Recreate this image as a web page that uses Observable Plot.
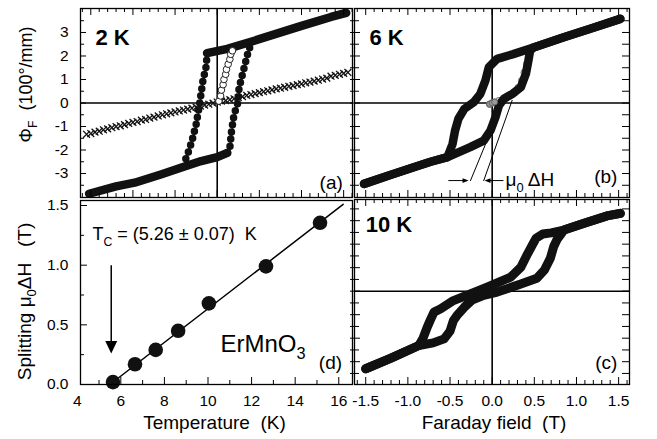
<!DOCTYPE html>
<html><head><meta charset="utf-8">
<script src="https://cdn.jsdelivr.net/npm/d3@7"></script>
<script src="https://cdn.jsdelivr.net/npm/@observablehq/plot@0.6"></script>
<style>
body{margin:0;background:#fff;}
#wrap{position:relative;width:657px;height:439px;overflow:hidden;background:#fff;}
</style></head><body><div id="wrap"></div>
<script>
// ---------------- data ----------------
const fieldTicks = [-1.5, -1, -0.5, 0, 0.5, 1, 1.5];
const fieldTickLabels = ["-1.5", "-1.0", "-0.5", "0.0", "0.5", "1.0", "1.5"];
const phiTicks = [-3, -2, -1, 0, 1, 2, 3];
const phiTickLabels = ["-3", "-2", "-1", "0", "1", "2", "3"];
const tempTicks = [4, 6, 8, 10, 12, 14, 16];
const tempTickLabels = ["4", "6", "8", "10", "12", "14", "16"];
const splitTicks = [0, 0.5, 1, 1.5];
const splitTickLabels = ["0.0", "0.5", "1.0", "1.5"];

// (a) 2 K loop, [field T, Phi]
const a2K_lower = [[-1.52,-3.86],[-1.2,-3.55],[-0.98,-3.39],[-0.66,-3.03],[-0.37,-2.68],[-0.19,-2.47],[0.0,-2.3],[0.12,-2.12]];
const a2K_rise  = [[0.12,-2.12],[0.15,-1.9],[0.17,-1.19],[0.2,-0.48],[0.24,-0.06],[0.26,0.65],[0.3,1.22],[0.34,1.79],[0.37,2.21],[0.4,2.5]];
const a2K_upper = [[-0.12,2.12],[0.12,2.3],[0.44,2.65],[0.99,3.27],[1.35,3.66],[1.53,3.83]];
const a2K_fall  = [[-0.12,2.12],[-0.13,1.57],[-0.17,0.94],[-0.21,-0.06],[-0.25,-0.91],[-0.29,-1.48],[-0.33,-1.97],[-0.37,-2.33],[-0.39,-2.65]];
const a2K_virgin = [[0.02,0.08],[0.04,0.3],[0.05,0.55],[0.07,0.78],[0.08,1.0],[0.1,1.22],[0.11,1.43],[0.13,1.65],[0.15,1.86],[0.16,2.07],[0.18,2.22]];
const a2K_crossField = [-1.55,-1.5,-1.45,-1.4,-1.35,-1.3,-1.25,-1.2,-1.15,-1.1,-1.05,-1.0,-0.95,-0.9,-0.85,-0.8,-0.75,-0.7,-0.65,-0.6,-0.55,-0.5,-0.45,-0.4,-0.35,-0.3,-0.25,-0.2,-0.15,-0.1,-0.05,0,0.05,0.1,0.15,0.2,0.25,0.3,0.35,0.4,0.45,0.5,0.55,0.6,0.65,0.7,0.75,0.8,0.85,0.9,0.95,1.0,1.05,1.1,1.15,1.2,1.25,1.3,1.35,1.4,1.45,1.5,1.55];
const a2K_crossPhi = [-1.33,-1.3,-1.24,-1.2,-1.14,-1.1,-1.05,-1.0,-0.97,-0.92,-0.87,-0.82,-0.79,-0.73,-0.7,-0.64,-0.6,-0.55,-0.5,-0.46,-0.42,-0.38,-0.34,-0.3,-0.26,-0.22,-0.18,-0.13,-0.09,-0.05,-0.01,0.04,0.08,0.1,0.14,0.18,0.23,0.27,0.32,0.36,0.4,0.44,0.48,0.52,0.56,0.6,0.63,0.67,0.71,0.74,0.78,0.81,0.86,0.89,0.93,0.97,1.02,1.06,1.14,1.18,1.22,1.26,1.3];

// (b) 6 K loop
const b6K_desc = [[1.52,3.58],[1.2,3.2],[0.85,2.8],[0.49,2.36],[0.25,2.08],[0.06,1.88],[-0.04,1.52],[-0.08,0.96],[-0.14,0.39],[-0.22,0.03],[-0.33,-0.25],[-0.4,-0.67],[-0.44,-1.17],[-0.47,-1.74],[-0.53,-2.3],[-0.73,-2.5],[-0.93,-2.73],[-1.2,-3.05],[-1.52,-3.44]];
const b6K_asc  = [[-1.52,-3.44],[-1.2,-3.05],[-0.93,-2.73],[-0.73,-2.5],[-0.53,-2.3],[-0.26,-1.88],[-0.1,-1.6],[-0.02,-1.17],[0.04,-0.6],[0.08,-0.11],[0.14,0.18],[0.24,0.39],[0.34,0.67],[0.4,1.24],[0.43,1.81],[0.45,2.23],[0.49,2.36],[0.85,2.8],[1.2,3.2],[1.52,3.58]];
const b6K_virgin = [[-0.03,-0.05],[0.0,0.0],[0.03,0.04],[0.08,0.1],[0.14,0.18],[0.21,0.3],[0.27,0.45],[0.31,0.66],[0.35,0.95],[0.38,1.3],[0.41,1.65]];
const b6K_tangent1 = [[-0.257,-3.3],[-0.05,-1.5]];
const b6K_tangent2 = [[-0.10,-3.3],[0.237,0.11]];

// (c) 10 K loop
const c10K_desc = [[1.52,3.31],[1.36,3.2],[1.1,2.9],[0.85,2.6],[0.7,2.48],[0.6,2.43],[0.52,2.25],[0.49,2.05],[0.42,1.59],[0.34,1.02],[0.22,0.6],[-0.06,0.17],[-0.26,-0.12],[-0.46,-0.4],[-0.61,-0.75],[-0.69,-0.89],[-0.73,-1.2],[-0.77,-1.53],[-0.82,-2.0],[-0.87,-2.31],[-1.2,-2.85],[-1.5,-3.3]];
const c10K_asc  = [[-1.5,-3.3],[-1.2,-2.85],[-0.87,-2.31],[-0.7,-2.2],[-0.57,-2.03],[-0.5,-1.7],[-0.46,-1.25],[-0.41,-1.0],[-0.33,-0.68],[-0.24,-0.38],[-0.1,-0.18],[0.06,-0.04],[0.34,0.31],[0.53,0.55],[0.62,0.9],[0.69,1.4],[0.73,1.9],[0.77,2.2],[0.81,2.4],[0.85,2.6],[1.1,2.9],[1.36,3.2],[1.52,3.31]];

// (d) splitting vs temperature
const tempK = [5.64, 6.65, 7.6, 8.63, 10.04, 12.66, 15.14];
const splitT = [0.02, 0.17, 0.29, 0.45, 0.68, 0.99, 1.355];
const fitT = [5.5, 16.2];
const fitS = [0.0, 1.51];

// ---------------- helpers ----------------
const FONT = '"Liberation Sans", Arial, Helvetica, sans-serif';
const mctx = document.createElement("canvas").getContext("2d");
function textWidth(s, size, weight) {
  mctx.font = `${weight || "normal"} ${size}px "Liberation Sans", Arial`;
  return mctx.measureText(s).width;
}
function rich(segs, o) {
  const size = o.size, weight = o.weight || "normal", rot = o.rotate || 0;
  const parts = segs.map(s => typeof s === "string" ? {t: s, sub: false} : s);
  const widths = parts.map(p => textWidth(p.t, p.sub ? size * 0.68 : size, weight));
  const total = d3.sum(widths);
  let off = o.anchor === "middle" ? -total / 2 : o.anchor === "end" ? -total : 0;
  const marks = [];
  parts.forEach((p, i) => {
    const fs = p.sub ? size * 0.68 : size;
    const shift = p.sub ? size * 0.3 : 0;
    const ddx = rot === -90 ? shift : off;
    const ddy = rot === -90 ? -off : shift;
    const opts = {text: d => d, dx: (o.dx || 0) + ddx, dy: (o.dy || 0) + ddy, fontSize: fs, fontWeight: weight,
      fontFamily: FONT, textAnchor: "start", lineAnchor: "bottom", fill: "black"};
    if (rot) opts.rotate = rot;
    if (o.x !== undefined) opts.x = () => o.x;
    if (o.y !== undefined) opts.y = () => o.y;
    if (o.frameAnchor) opts.frameAnchor = o.frameAnchor;
    marks.push(Plot.text([p.t], opts));
    off += widths[i];
  });
  return marks;
}
const TK = {stroke: "black", strokeWidth: 1};
const ticksTop = (vals, len, ih) => Plot.tickX(vals, {x: d => d, insetBottom: ih - len, ...TK});
const ticksBottom = (vals, len, ih) => Plot.tickX(vals, {x: d => d, insetTop: ih - len, ...TK});
const ticksLeft = (vals, len, iw, out = 0) => Plot.tickY(vals, {y: d => d, insetRight: iw - len, insetLeft: -out, ...TK});
const ticksRight = (vals, len, iw) => Plot.tickY(vals, {y: d => d, insetLeft: iw - len, ...TK});

const fieldMinor = d3.range(-16, 17).map(k => k / 10).filter(v => !fieldTicks.includes(v));
const phiMinor = d3.range(-7, 8, 2).map(k => k / 2);
const tempMinor = [5, 7, 9, 11, 13, 15];
const splitMinor = [0.25, 0.75, 1.25];

const pts = arr => arr.map(([x, y]) => ({x, y}));
const loopLine = (arr, w = 8.5) => Plot.line(pts(arr), {x: "x", y: "y", stroke: "#111", strokeWidth: w, strokeLinecap: "round", strokeLinejoin: "round"});
const dottedLine = (arr) => Plot.line(pts(arr), {x: "x", y: "y", stroke: "#111", strokeWidth: 7.5, strokeLinecap: "round", strokeDasharray: "0 7.2"});

const triDown = {draw(ctx, size) { const r = Math.sqrt(size / Math.PI); ctx.moveTo(0, 0); ctx.lineTo(-0.95 * r, -2 * r); ctx.lineTo(0.95 * r, -2 * r); ctx.closePath(); }};
const triRight = {draw(ctx, size) { const r = Math.sqrt(size / Math.PI); ctx.moveTo(0, 0); ctx.lineTo(-2 * r, -0.8 * r); ctx.lineTo(-2 * r, 0.8 * r); ctx.closePath(); }};
const triLeft = {draw(ctx, size) { const r = Math.sqrt(size / Math.PI); ctx.moveTo(0, 0); ctx.lineTo(2 * r, -0.8 * r); ctx.lineTo(2 * r, 0.8 * r); ctx.closePath(); }};

const wrap = document.getElementById("wrap");
function place(svg, left, top) {
  svg.style.position = "absolute";
  svg.style.left = left + "px";
  svg.style.top = top + "px";
  wrap.appendChild(svg);
}
const STYLE = `background: none; overflow: visible; font-family: ${FONT};`;
const tickLabelX = (vals, labels, dy = 17) => Plot.text(vals, {x: d => d, text: (d, i) => labels[i], frameAnchor: "bottom", dy, lineAnchor: "middle", fontSize: 15.5, fontFamily: FONT, fill: "black"});
const tickLabelY = (vals, labels, dx = -12) => Plot.text(vals, {y: d => d, text: (d, i) => labels[i], frameAnchor: "left", dx, textAnchor: "end", lineAnchor: "middle", fontSize: 15.5, fontFamily: FONT, fill: "black"});

// ---------------- (a) 2 K ----------------
{
  const iw = 272, ih = 189;
  const plot = Plot.plot({
    width: 354, height: 199, marginLeft: 80, marginRight: 2, marginTop: 8, marginBottom: 2,
    style: STYLE,
    x: {domain: [-1.622, 1.605], axis: null},
    y: {domain: [-4.02, 4.02], axis: null},
    marks: [
      Plot.ruleX([0], {stroke: "black", strokeWidth: 1.6}),
      Plot.ruleY([0], {stroke: "black", strokeWidth: 1.6}),
      Plot.dot(a2K_crossField, {x: d => d, y: (d, i) => a2K_crossPhi[i], symbol: "times", r: 3.2, stroke: "#111", strokeWidth: 1.3}),
      loopLine(a2K_lower), loopLine(a2K_upper),
      dottedLine(a2K_rise), dottedLine(a2K_fall),
      Plot.dot(pts(a2K_virgin), {x: "x", y: "y", r: 3.3, stroke: "#222", fill: "white", strokeWidth: 1}),
      Plot.frame({stroke: "black", strokeWidth: 1.3}),
      ticksTop(fieldTicks, 7, ih), ticksTop(fieldMinor, 4, ih),
      ticksBottom(fieldTicks, 7, ih), ticksBottom(fieldMinor, 4, ih),
      ticksLeft(phiTicks, 6, iw), ticksLeft(phiMinor, 4, iw),
      tickLabelY(phiTicks, phiTickLabels),
      ...rich(["2 K"], {x: -1.444, y: 2.45, size: 22, weight: "bold"}),
      ...rich(["(a)"], {x: 1.49, y: -3.66, size: 19, anchor: "end"}),
      ...rich(["Φ", {t: "F", sub: true}, "  (100°/mm)"], {frameAnchor: "left", y: 0.79, dx: -49, rotate: -90, size: 18, anchor: "middle"})
    ]
  });
  place(plot, 0, 0);
}

// ---------------- (b) 6 K ----------------
{
  const iw = 275, ih = 189;
  const plot = Plot.plot({
    width: 287, height: 199, marginLeft: 10, marginRight: 2, marginTop: 8, marginBottom: 2,
    style: STYLE,
    x: {domain: [-1.633, 1.629], axis: null},
    y: {domain: [-4.02, 4.02], axis: null},
    marks: [
      Plot.ruleX([0], {stroke: "black", strokeWidth: 1.6}),
      Plot.ruleY([0], {stroke: "black", strokeWidth: 1.6}),
      Plot.line(pts(b6K_tangent1), {x: "x", y: "y", stroke: "black", strokeWidth: 1}),
      Plot.line(pts(b6K_tangent2), {x: "x", y: "y", stroke: "black", strokeWidth: 1}),
      Plot.dot(pts(b6K_virgin), {x: "x", y: "y", r: 3.3, stroke: "#666", fill: "#ccc", strokeWidth: 0.8}),
      loopLine(b6K_desc), loopLine(b6K_asc),
      Plot.dot(pts(b6K_virgin.slice(0, 3)), {x: "x", y: "y", r: 3, stroke: "#555", fill: "#999", strokeWidth: 0.8}),
      // splitting arrows
      Plot.link([{x1: -0.52, x2: -0.3, y: -3.3}], {x1: "x1", x2: "x2", y1: "y", y2: "y", stroke: "black", strokeWidth: 1}),
      Plot.dot([{x: -0.28, y: -3.3}], {x: "x", y: "y", symbol: triRight, r: 3, fill: "black", stroke: "none"}),
      Plot.link([{x1: 0.134, x2: -0.07, y: -3.3}], {x1: "x1", x2: "x2", y1: "y", y2: "y", stroke: "black", strokeWidth: 1}),
      Plot.dot([{x: -0.09, y: -3.3}], {x: "x", y: "y", symbol: triLeft, r: 3, fill: "black", stroke: "none"}),
      ...rich(["μ", {t: "0", sub: true}, " ΔH"], {x: 0.158, y: -3.55, size: 19}),
      Plot.frame({stroke: "black", strokeWidth: 1.3}),
      ticksTop(fieldTicks, 7, ih), ticksTop(fieldMinor, 4, ih),
      ticksBottom(fieldTicks, 7, ih), ticksBottom(fieldMinor, 4, ih),
      ticksLeft(phiTicks, 6, iw, 4), ticksLeft(phiMinor, 5, iw, 4),
      ticksRight(phiTicks, 7, iw), ticksRight(phiMinor, 7, iw),
      ...rich(["6 K"], {x: -1.456, y: 2.45, size: 22, weight: "bold"}),
      ...rich(["(b)"], {x: 1.486, y: -3.4, size: 19, anchor: "end"})
    ]
  });
  place(plot, 344, 0);
}

// ---------------- (d) splitting ----------------
{
  const iw = 272, ih = 184;
  const plot = Plot.plot({
    width: 354, height: 242, marginLeft: 80, marginRight: 2, marginTop: 3, marginBottom: 55,
    style: STYLE,
    x: {domain: [4.15, 16.63], axis: null},
    y: {domain: [0, 1.542], axis: null},
    marks: [
      Plot.line(fitT.map((t, i) => ({t, s: fitS[i]})), {x: "t", y: "s", stroke: "black", strokeWidth: 1.5}),
      Plot.dot(tempK.map((t, i) => ({t, s: splitT[i]})), {x: "t", y: "s", r: 7.3, fill: "#111", stroke: "none"}),
      Plot.link([{x: 5.56, y1: 1.0, y2: 0.33}], {x1: "x", x2: "x", y1: "y1", y2: "y2", stroke: "black", strokeWidth: 1.5}),
      Plot.dot([{x: 5.56, y: 0.26}], {x: "x", y: "y", symbol: triDown, r: 6.3, fill: "black", stroke: "none"}),
      Plot.frame({stroke: "black", strokeWidth: 1.3}),
      ticksBottom(tempTicks.filter(v => v > 4.15), 7, ih), ticksBottom(tempMinor, 4, ih),
      ticksLeft(splitTicks, 7, iw), ticksLeft(splitMinor, 4, iw),
      tickLabelX(tempTicks, tempTickLabels),
      tickLabelY(splitTicks, splitTickLabels),
      ...rich(["T", {t: "C", sub: true}, " = (5.26 ± 0.07)  K"], {x: 4.7, y: 1.207, size: 18}),
      ...rich(["ErMnO", {t: "3", sub: true}], {x: 10.57, y: 0.27, size: 24}),
      ...rich(["(d)"], {x: 16.15, y: 0.13, size: 19, anchor: "end"}),
      ...rich(["Temperature  (K)"], {frameAnchor: "bottom", dx: -2, dy: 44, size: 19, anchor: "middle"}),
      ...rich(["Splitting μ", {t: "0", sub: true}, "ΔH   (T)"], {frameAnchor: "left", y: 0.696, dx: -50, rotate: -90, size: 19, anchor: "middle"})
    ]
  });
  place(plot, 0, 197);
}

// ---------------- (c) 10 K ----------------
{
  const iw = 275, ih = 185;
  const plot = Plot.plot({
    width: 287, height: 242, marginLeft: 10, marginRight: 2, marginTop: 2, marginBottom: 55,
    style: STYLE,
    x: {domain: [-1.633, 1.629], axis: null},
    y: {domain: [-3.97, 3.9], axis: null},
    marks: [
      Plot.ruleX([0], {stroke: "black", strokeWidth: 1.6}),
      Plot.ruleY([0], {stroke: "black", strokeWidth: 1.6}),
      loopLine(c10K_desc, 9), loopLine(c10K_asc, 9),
      Plot.frame({stroke: "black", strokeWidth: 1.3}),
      ticksTop(fieldTicks, 7, ih), ticksTop(fieldMinor, 4, ih),
      ticksBottom(fieldTicks, 7, ih), ticksBottom(fieldMinor, 4, ih),
      ticksLeft(phiTicks, 6, iw, 4), ticksLeft(phiMinor, 5, iw, 4),
      ticksRight(phiTicks, 7, iw), ticksRight(phiMinor, 7, iw),
      tickLabelX(fieldTicks, fieldTickLabels),
      ...rich(["10 K"], {x: -1.5, y: 2.5, size: 22, weight: "bold"}),
      ...rich(["(c)"], {x: 1.486, y: -3.29, size: 19, anchor: "end"}),
      ...rich(["Faraday field  (T)"], {frameAnchor: "bottom", dx: 2, dy: 44, size: 19, anchor: "middle"})
    ]
  });
  place(plot, 344, 197);
}
</script>
</body></html>
